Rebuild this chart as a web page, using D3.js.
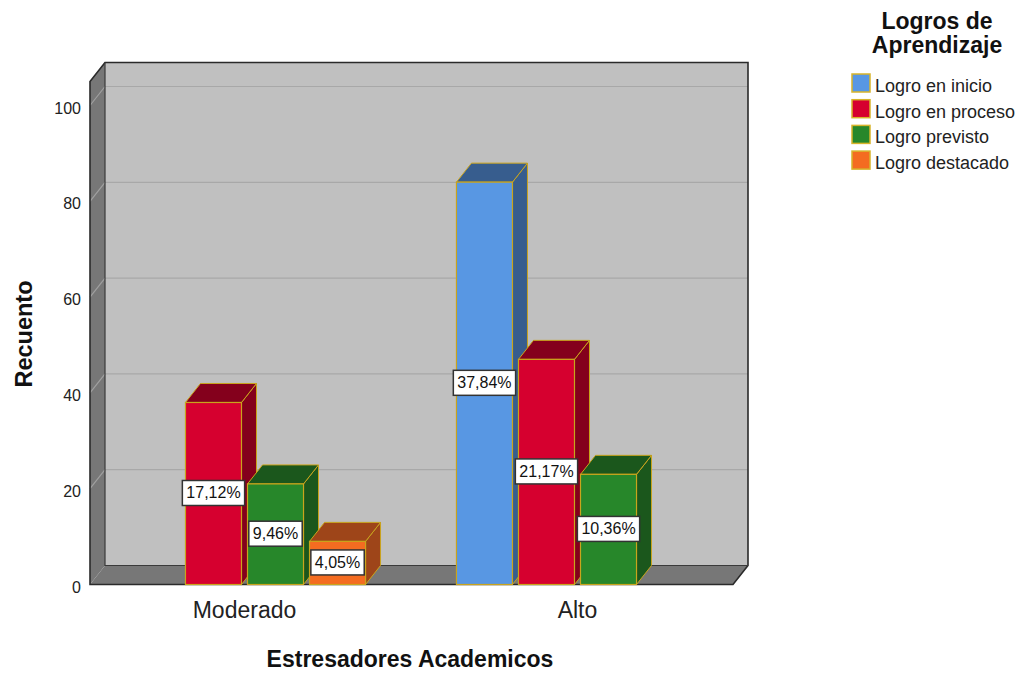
<!DOCTYPE html>
<html>
<meta charset="utf-8">
<head>
<style>
body { margin:0; padding:0; background:#fff; }
svg { display:block; font-family:"Liberation Sans", Arial, sans-serif; }
</style>
</head>
<body>
<svg id="chart" width="1030" height="673"></svg>
<script src="https://cdn.jsdelivr.net/npm/d3@7"></script>
<script>

// data
var categories = ["Moderado", "Alto"];
var series = ["Logro en inicio", "Logro en proceso", "Logro previsto", "Logro destacado"];
var countsModerado = [null, 38, 21, 9];
var countsAlto = [84, 47, 23, null];
var pctModerado = [null, 17.12, 9.46, 4.05];
var pctAlto = [37.84, 21.17, 10.36, null];
var yTicks = [0, 20, 40, 60, 80, 100];

var frontColors = ["#5897e3", "#d6002f", "#27872a", "#f46c21"];
var darkColors = ["#375d8e", "#84001c", "#1b571c", "#9e4519"];

var counts = [countsModerado, countsAlto];
var pcts = [pctModerado, pctAlto];

var svg = d3.select("#chart");

// 3d depth offset
var dx = 15, dy = 19;

var y = d3.scaleLinear().domain([0, 100]).range([584.5, 105.5]);
var yTop = 105;

var x0 = d3.scaleBand().domain(categories).range([78, 744]).paddingInner(0.273).paddingOuter(0.1365);
var x1 = d3.scaleBand().domain(series).range([0, x0.bandwidth()]).paddingInner(0.097).paddingOuter(0);

var left = 90, right = 733;

// back wall
svg.append("rect")
  .attr("x", left + dx).attr("y", y(yTop) - dy)
  .attr("width", right - left).attr("height", y(0) - y(yTop))
  .attr("fill", "#c0c0c0");

// side wall
svg.append("polygon")
  .attr("points", [[left, y(yTop)], [left + dx, y(yTop) - dy], [left + dx, y(0) - dy], [left, y(0)]].join(" "))
  .attr("fill", "#777777");

// grid lines
yTicks.filter(function(d){ return d > 0; }).forEach(function(v){
  svg.append("line")
    .attr("x1", left + dx).attr("x2", right + dx)
    .attr("y1", y(v) - dy).attr("y2", y(v) - dy)
    .attr("stroke", "#a8a8a8").attr("stroke-width", 1.2);
  svg.append("line")
    .attr("x1", left).attr("x2", left + dx)
    .attr("y1", y(v)).attr("y2", y(v) - dy)
    .attr("stroke", "#a0a0a0").attr("stroke-width", 1.2);
});

// floor
svg.append("polygon")
  .attr("points", [[left, y(0)], [left + dx, y(0) - dy], [right + dx, y(0) - dy], [right, y(0)]].join(" "))
  .attr("fill", "#777777");

// outlines
svg.append("path")
  .attr("d", "M" + left + "," + y(0) + "L" + left + "," + y(yTop) + "L" + (left + dx) + "," + (y(yTop) - dy) +
             "L" + (right + dx) + "," + (y(yTop) - dy) + "L" + (right + dx) + "," + (y(0) - dy) +
             "L" + right + "," + y(0) + "Z")
  .attr("fill", "none").attr("stroke", "#2a2a2a").attr("stroke-width", 1.6);
svg.append("path")
  .attr("d", "M" + (left + dx) + "," + (y(yTop) - dy) + "L" + (left + dx) + "," + (y(0) - dy) + "L" + (right + dx) + "," + (y(0) - dy))
  .attr("fill", "none").attr("stroke", "#3a3a3a").attr("stroke-width", 1.2);

// bars
var bars = [];
categories.forEach(function(c, i){
  series.forEach(function(s, j){
    if (counts[i][j] != null) bars.push({cat: c, ser: s, j: j, value: counts[i][j], pct: pcts[i][j]});
  });
});

var g = svg.append("g");
bars.forEach(function(d){
  var bx = x0(d.cat) + x1(d.ser), bw = x1.bandwidth();
  var top = y(d.value), bot = y(0);
  var edge = "#c9a41c";
  g.append("polygon")
    .attr("points", [[bx + bw, top], [bx + bw + dx, top - dy], [bx + bw + dx, bot - dy], [bx + bw, bot]].join(" "))
    .attr("fill", darkColors[d.j]).attr("stroke", edge).attr("stroke-width", 1);
  g.append("polygon")
    .attr("points", [[bx, top], [bx + dx, top - dy], [bx + bw + dx, top - dy], [bx + bw, top]].join(" "))
    .attr("fill", darkColors[d.j]).attr("stroke", edge).attr("stroke-width", 1);
  g.append("rect")
    .attr("x", bx).attr("y", top).attr("width", bw).attr("height", bot - top)
    .attr("fill", frontColors[d.j]).attr("stroke", edge).attr("stroke-width", 1.2);
});

// value labels
bars.forEach(function(d){
  var cx = x0(d.cat) + x1(d.ser) + x1.bandwidth() / 2;
  var cy = (y(d.value) + y(0)) / 2 - 1;
  var txt = d3.format(".2f")(d.pct).replace(".", ",") + "%";
  var lg = svg.append("g");
  var t = lg.append("text")
    .attr("x", cx).attr("y", cy + 6)
    .attr("text-anchor", "middle")
    .attr("font-size", 16).attr("fill", "#111")
    .text(txt);
  var w = t.node().getComputedTextLength() + 8;
  lg.insert("rect", "text")
    .attr("x", cx - w / 2).attr("y", cy - 12)
    .attr("width", w).attr("height", 25)
    .attr("fill", "#fff").attr("stroke", "#333").attr("stroke-width", 1.5);
});

// y axis labels
yTicks.forEach(function(v){
  svg.append("text")
    .attr("x", 81).attr("y", y(v) + 8)
    .attr("text-anchor", "end")
    .attr("font-size", 16).attr("fill", "#222")
    .text(v);
});

// category labels
categories.forEach(function(c){
  svg.append("text")
    .attr("x", x0(c) + x0.bandwidth() / 2).attr("y", 618)
    .attr("text-anchor", "middle")
    .attr("font-size", 23).attr("fill", "#222")
    .text(c);
});

// axis titles
svg.append("text")
  .attr("x", 410).attr("y", 667)
  .attr("text-anchor", "middle")
  .attr("font-size", 23).attr("font-weight", "bold").attr("fill", "#111")
  .text("Estresadores Academicos");

svg.append("text")
  .attr("transform", "translate(32,334) rotate(-90)")
  .attr("text-anchor", "middle")
  .attr("font-size", 23.5).attr("font-weight", "bold").attr("fill", "#111")
  .text("Recuento");

// legend
var legend = svg.append("g");
legend.append("text")
  .attr("x", 937).attr("y", 29)
  .attr("text-anchor", "middle")
  .attr("font-size", 23).attr("font-weight", "bold").attr("fill", "#111")
  .text("Logros de");
legend.append("text")
  .attr("x", 937).attr("y", 53)
  .attr("text-anchor", "middle")
  .attr("font-size", 23).attr("font-weight", "bold").attr("fill", "#111")
  .text("Aprendizaje");

series.forEach(function(s, j){
  var ly = 74 + j * 25.7;
  legend.append("rect")
    .attr("x", 852).attr("y", ly).attr("width", 18).attr("height", 18)
    .attr("fill", frontColors[j]).attr("stroke", "#d8b42a").attr("stroke-width", 1.5);
  legend.append("text")
    .attr("x", 875).attr("y", ly + 18)
    .attr("font-size", 18).attr("fill", "#222")
    .text(s);
});

</script>
</body>
</html>
